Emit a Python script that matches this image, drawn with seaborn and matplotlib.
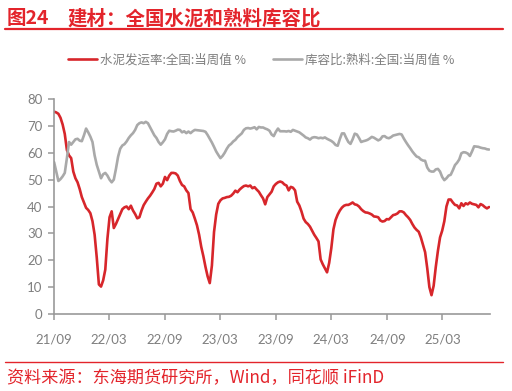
import numpy as np
import pandas as pd
import matplotlib
matplotlib.use("Agg")
import matplotlib.pyplot as plt
import seaborn as sns

# ---- data (weekly) ----
start_date = "2021-09-03"
shipment_rate = [  # 水泥发运率:全国:当周值 %
    75.3, 75.0, 74.5, 73.0, 70.5, 67.0, 61.0, 59.0, 58.0, 53.0,
    50.5, 49.0, 46.5, 43.5, 41.5, 39.5, 38.7, 37.5, 34.5, 29.5,
    21.0, 11.0, 10.2, 12.5, 16.5, 28.0, 36.0, 38.2, 32.0, 33.5,
    35.3, 37.0, 39.0, 39.7, 40.0, 39.0, 40.3, 38.5, 37.2, 35.6,
    36.0, 38.5, 40.5, 41.8, 43.0, 44.0, 45.2, 46.5, 48.5, 48.8,
    47.5, 48.5, 51.0, 49.8, 51.5, 52.5, 52.5, 52.3, 51.5, 49.5,
    48.0, 47.5, 46.0, 45.0, 39.0, 37.8, 35.5, 33.0, 29.5, 25.0,
    21.5, 17.5, 14.0, 11.5, 18.0, 30.5, 37.0, 41.0, 42.3, 43.0,
    43.2, 43.5, 43.6, 44.0, 44.8, 45.9, 45.3, 46.3, 47.0, 47.6,
    47.8, 47.5, 47.8, 46.8, 47.2, 46.3, 45.5, 44.2, 43.0, 40.8,
    43.5, 44.5, 45.5, 47.5, 48.4, 49.0, 49.3, 49.0, 48.2, 47.8,
    46.0, 47.3, 47.0, 46.0, 41.8, 40.4, 38.2, 35.5, 34.2, 33.5,
    32.5, 31.0, 29.5, 28.3, 27.0, 20.3, 18.5, 17.0, 15.5, 19.0,
    24.5, 31.5, 35.0, 37.0, 38.5, 39.6, 40.3, 40.6, 40.6, 41.0,
    41.5, 40.8, 40.6, 40.0, 39.0, 38.3, 37.8, 37.7, 37.4, 37.0,
    36.3, 36.2, 36.0, 34.8, 34.4, 34.6, 35.3, 35.2, 36.0, 36.8,
    37.0, 37.4, 38.2, 38.2, 37.8, 36.8, 36.0, 35.0, 33.5, 32.2,
    31.3, 30.6, 28.5, 25.8, 23.0, 17.0, 10.0, 7.0, 10.5, 17.5,
    23.5, 28.5, 31.0, 34.5, 40.0, 42.6, 42.6, 41.5, 40.6, 40.4,
    39.3, 41.2, 40.2, 41.2, 40.8, 41.5, 41.0, 40.8, 40.6, 39.7,
    40.9, 40.5, 39.8, 39.3, 39.8,
]
clinker_storage = [  # 库容比:熟料:全国:当周值 %
    56.5, 53.0, 49.5, 50.2, 51.2, 52.5, 58.0, 64.0, 63.0, 64.0,
    65.0, 65.2, 64.5, 64.3, 66.5, 69.0, 67.6, 66.0, 64.0, 59.0,
    55.5, 53.0, 50.5, 52.0, 52.5, 51.5, 50.0, 49.0, 50.0, 54.0,
    58.5, 61.5, 62.7, 63.2, 64.2, 65.5, 66.5, 67.3, 68.5, 70.3,
    71.0, 71.3, 71.0, 71.5, 71.0, 69.5, 68.0, 66.5, 65.5, 64.0,
    63.0, 63.9, 65.0, 67.0, 68.2, 68.0, 67.9, 68.2, 68.6, 68.5,
    67.6, 68.0, 67.3, 67.9, 67.3, 68.0, 68.5, 68.4, 68.3, 68.2,
    68.1, 67.8, 66.6, 65.2, 63.8, 62.2, 60.5, 59.2, 58.0, 58.8,
    60.0, 61.5, 62.7, 63.3, 64.2, 64.8, 65.8, 66.5, 67.2, 68.5,
    69.1, 69.2, 69.0, 69.2, 69.5, 68.7, 69.6, 69.4, 69.4, 69.0,
    68.7, 68.2, 66.8, 66.2, 67.8, 69.0, 68.0, 68.0, 68.0, 67.9,
    68.1, 67.8, 68.5, 68.2, 67.9, 67.6, 67.0, 66.4, 65.7, 65.4,
    64.9, 65.6, 65.8, 65.7, 65.4, 65.6, 65.4, 65.7, 65.2, 64.8,
    64.4, 63.8, 62.9, 62.6, 65.1, 67.2, 67.2, 65.5, 64.0, 63.3,
    65.0, 67.1, 66.8, 65.5, 64.0, 64.3, 64.5, 64.8, 65.3, 65.9,
    65.6, 65.1, 64.6, 65.0, 66.1, 66.2, 65.6, 65.4, 65.8, 66.4,
    66.6, 66.8, 67.0, 66.8, 65.3, 64.0, 62.8, 61.7, 60.5, 59.5,
    58.6, 58.3, 57.5, 57.1, 57.0, 54.5, 53.3, 53.0, 53.0, 53.8,
    54.0, 53.0, 51.0, 49.8, 50.5, 51.5, 51.8, 53.5, 55.4, 56.3,
    57.5, 59.8, 60.2, 60.1, 59.7, 58.8, 60.5, 62.4, 62.3, 62.2,
    61.9, 61.7, 61.6, 61.3, 61.2,
]
series_names = ["水泥发运率:全国:当周值 %", "库容比:熟料:全国:当周值 %"]
tick_labels = ["21/09", "22/03", "22/09", "23/03", "23/09", "24/03", "24/09", "25/03"]
y_ticks = [0, 10, 20, 30, 40, 50, 60, 70, 80]
title_num = "图24"
title_text = "建材：全国水泥和熟料库容比"
source_text = "资料来源：东海期货研究所，Wind，同花顺 iFinD"

RED = "#d7262b"
GREY = "#a9a9a9"
TXT = "#7f7f7f"
ACCENT = "#e3242b"

dates = pd.date_range(start_date, periods=len(shipment_rate), freq="7D")
df = pd.DataFrame({"date": dates, "a": shipment_rate, "b": clinker_storage})

sns.set_theme(style="white")
plt.rcParams["font.family"] = ["Noto Sans CJK SC", "DejaVu Sans"]

fig = plt.figure(figsize=(5.12, 3.91), dpi=100)
ax = fig.add_axes([53.5 / 512, 1 - 314 / 391, (490 - 53.5) / 512, (314 - 99) / 391])

sns.lineplot(data=df, x="date", y="a", ax=ax, color=RED, linewidth=1.9, label=series_names[0])
sns.lineplot(data=df, x="date", y="b", ax=ax, color=GREY, linewidth=1.9, label=series_names[1])

ax.set_ylim(0, 80)
ax.set_yticks(y_ticks)
ax.set_yticklabels([str(v) for v in y_ticks], family="Lato", fontsize=9.5, color=TXT)
tick_dates = pd.to_datetime(["20" + t.split("/")[0] + "-" + t.split("/")[1] + "-01" for t in tick_labels])
ax.set_xticks(tick_dates)
ax.set_xticklabels(tick_labels, family="Lato", fontsize=9.5, color=TXT)
ax.set_xlim(pd.Timestamp("2021-09-01"), dates[-1] + pd.Timedelta(days=3))
ax.set_xlabel("")
ax.set_ylabel("")

for s in ["top", "right"]:
    ax.spines[s].set_visible(False)
for s in ["left", "bottom"]:
    ax.spines[s].set_color("#999999")
    ax.spines[s].set_linewidth(1.2)
ax.tick_params(axis="both", which="major", direction="out", length=4, width=1.1,
               color="#999999", left=True, bottom=True)
ax.tick_params(axis="y", pad=4)
ax.tick_params(axis="x", pad=10)

leg = ax.legend(loc="center", bbox_to_anchor=(0.51, 1 - 60 / 391), bbox_transform=fig.transFigure,
                ncol=2, frameon=False, handlelength=2.3, handletextpad=0.25, columnspacing=2.2,
                prop={"family": ["Noto Sans CJK SC", "DejaVu Sans"], "size": 9})
for t in leg.get_texts():
    t.set_color(TXT)

fig.text(7 / 512, 1 - 19 / 391, title_num, color=ACCENT, fontsize=14, fontweight="bold",
         va="center", ha="left")
fig.text(67 / 512, 1 - 19 / 391, title_text, color=ACCENT, fontsize=14, fontweight="bold",
         va="center", ha="left")
fig.add_artist(plt.Line2D([5 / 512, 503 / 512], [1 - 28.5 / 391] * 2, color=ACCENT, linewidth=1.6))
fig.add_artist(plt.Line2D([5 / 512, 503 / 512], [1 - 362 / 391] * 2, color=ACCENT, linewidth=1.0))
fig.text(7 / 512, 1 - 378 / 391, source_text, color=ACCENT, fontsize=12.3, va="center", ha="left")

fig.savefig("out.png", dpi=100)
